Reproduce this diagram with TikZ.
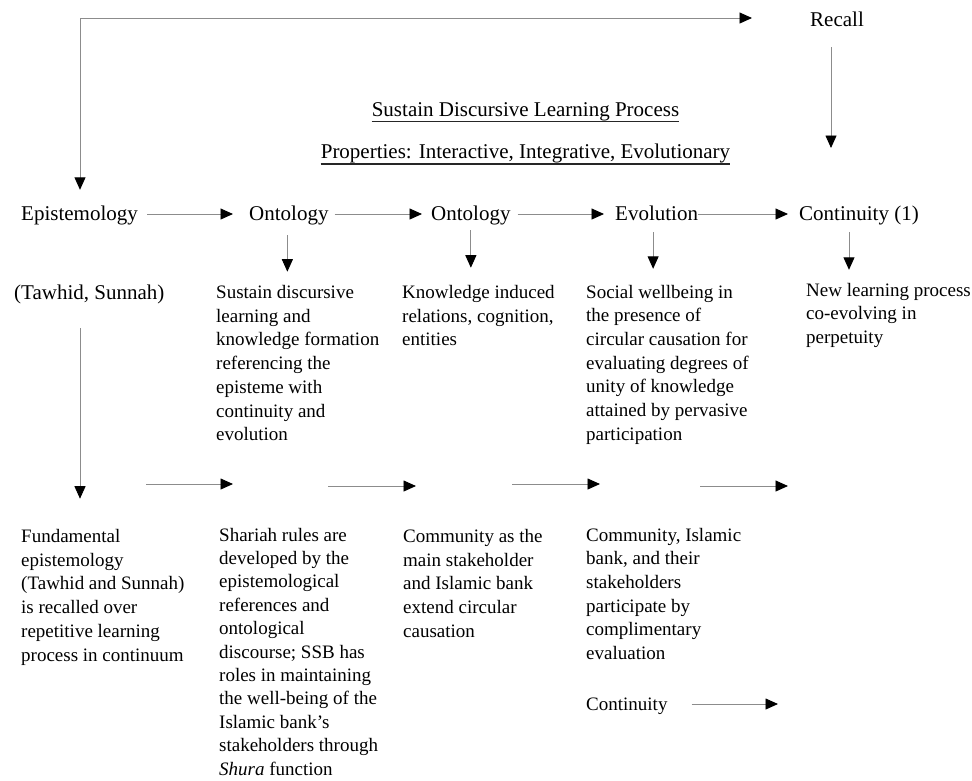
\documentclass[tikz,border=0pt]{standalone}
\usepackage{fontspec}
\setmainfont{Liberation Serif}
\usetikzlibrary{arrows.meta}
\newcommand\blk[1]{\begin{tabular}[t]{@{}l@{}}#1\end{tabular}}
\tikzset{
  >={Triangle[length=12.5pt,width=11pt,color=black]},
  lbl/.style={inner sep=0pt, anchor=base west, font=\fontsize{21}{25}\selectfont, text height=15pt, text depth=2pt},
  body/.style={inner sep=0pt, anchor=base west, font=\fontsize{19}{23.7}\selectfont},
  arr/.style={draw=black!45, line width=0.9pt, ->},
  arrboth/.style={draw=black!45, line width=0.9pt, <->},
  uline/.style={line width=1.1pt, draw=black!85},
}
\begin{document}
\begin{tikzpicture}[x=1pt,y=-1pt]
\fill[white] (0,0) rectangle (972,780);
\useasboundingbox (0,0) rectangle (972,780);

% top labels
\node[lbl] (recall) at (810,26.5) {Recall};
\node[lbl, anchor=base] (ttl) at (525.5,116.5) {Sustain Discursive Learning Process};
\node[lbl, anchor=base] (props) at (525.5,158) {Properties: Interactive, Integrative, Evolutionary};
\draw[uline] ([yshift=-5.2pt]ttl.base west) -- ([yshift=-5.2pt]ttl.base east);
\draw[uline] ([yshift=-6pt]props.base west) -- ([yshift=-6pt]props.base east);

% row 1 labels
\node[lbl] (ep)  at (21,220.5)  {Epistemology};
\node[lbl] (on1) at (249,220.5) {Ontology};
\node[lbl] (on2) at (431,220.5) {Ontology};
\node[lbl] (ev)  at (615,220.5) {Evolution};
\node[lbl] (co)  at (799,220.5) {Continuity (1)};
\node[lbl] (tw)  at (14,299)    {(Tawhid, Sunnah)};

% row 1 texts
\node[body] (tA) at (216,298.5) {\blk{Sustain discursive\\learning and\\knowledge formation\\referencing the\\episteme with\\continuity and\\evolution}};
\node[body] (tB) at (402,298.5) {\blk{Knowledge induced\\relations, cognition,\\entities}};
\node[body] (tC) at (586,298) {\blk{Social wellbeing in\\the presence of\\circular causation for\\evaluating degrees of\\unity of knowledge\\attained by pervasive\\participation}};
\node[body] (tD) at (806,296) {\blk{New learning process\\co-evolving in\\perpetuity}};

% row 2 texts
\node[body] (tE) at (21,542.5) {\blk{Fundamental\\epistemology\\(Tawhid and Sunnah)\\is recalled over\\repetitive learning\\process in continuum}};
\node[body, font=\fontsize{19}{23.4}\selectfont] (tF) at (219,541) {\blk{Shariah rules are\\developed by the\\epistemological\\references and\\ontological\\discourse; SSB has\\roles in maintaining\\the well-being of the\\Islamic bank’s\\stakeholders through\\\textit{Shura} function}};
\node[body] (tG) at (403,542.5) {\blk{Community as the\\main stakeholder\\and Islamic bank\\extend circular\\causation}};
\node[body] (tH) at (586,541) {\blk{Community, Islamic\\bank, and their\\stakeholders\\participate by\\complimentary\\evaluation}};
\node[body, text height=13pt, text depth=0pt] (cont) at (586,710.5) {Continuity};

% coordinates for free ends
\coordinate (tl) at (80,18);
\coordinate (tr) at (752,18);
\coordinate (rd) at (831,148);
\coordinate (b1s) at (146,484); \coordinate (b1e) at (233,484);
\coordinate (b2s) at (328,486); \coordinate (b2e) at (416,486);
\coordinate (b3s) at (512,484); \coordinate (b3e) at (600,484);
\coordinate (b4s) at (700,486); \coordinate (b4e) at (788,486);
\coordinate (ce) at (778,704);

% top loop
\draw[arrboth, shorten >=15.5pt] (tr) -- (tl) -- (tl |- ep.north);
\draw[arr, shorten <=18.5pt] (recall.south -| rd) -- (rd);

% row 1 horizontal
\draw[arr, shorten <=9pt, shorten >=16pt] (ep.east) -- (on1.west);
\draw[arr, shorten <=6pt, shorten >=9pt] (on1.east) -- (on2.west);
\draw[arr, shorten <=7pt, shorten >=11pt] (on2.east) -- (ev.west);
\draw[arr, shorten <=0pt, shorten >=11pt] (ev.east) -- (co.west);

% row 1 down arrows
\draw[arr, shorten <=12.5pt, shorten >=10pt] ([xshift=-1.5pt]on1.south) -- ([xshift=-1.5pt]on1.south |- tA.north);
\draw[arr, shorten <=7.5pt, shorten >=14pt] (on2.south) -- (on2.south |- tB.north);
\draw[arr, shorten <=9.5pt, shorten >=12.4pt] ([xshift=-3.5pt]ev.south) -- ([xshift=-3.5pt]ev.south |- tC.north);
\draw[arr, shorten <=9.5pt, shorten >=9.4pt] ([xshift=-10pt]co.south) -- ([xshift=-10pt]co.south |- tD.north);

% left vertical
\draw[arr, shorten <=27pt, shorten >=27pt] (tl |- tw.south) -- (tl |- tE.north);

% row 2 arrows
\draw[arr] (b1s) -- (b1e);
\draw[arr] (b2s) -- (b2e);
\draw[arr] (b3s) -- (b3e);
\draw[arr] (b4s) -- (b4e);
\draw[arr, shorten <=24pt] (cont.east) -- (ce);
\end{tikzpicture}
\end{document}
